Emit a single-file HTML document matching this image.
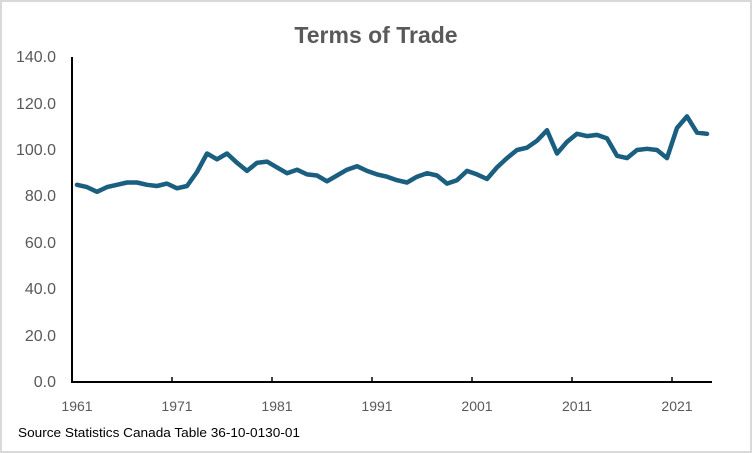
<!DOCTYPE html>
<html><head><style>
html,body{margin:0;padding:0;background:#fff}
svg{display:block;font-family:"Liberation Sans",sans-serif}
</style></head><body>
<svg width="752" height="453" viewBox="0 0 752 453">
<rect x="0" y="0" width="752" height="453" fill="#fff"/>
<rect x="1" y="1" width="750" height="451" fill="none" stroke="#d9d9d9" stroke-width="2"/>
<text x="376" y="43" text-anchor="middle" font-size="23" font-weight="bold" fill="#595959">Terms of Trade</text>
<g font-size="16" fill="#595959" text-anchor="end">
<text x="56" y="387">0.0</text>
<text x="56" y="341">20.0</text>
<text x="56" y="294">40.0</text>
<text x="56" y="248">60.0</text>
<text x="56" y="201">80.0</text>
<text x="56" y="155">100.0</text>
<text x="56" y="109">120.0</text>
<text x="56" y="62">140.0</text>
</g>
<g font-size="14" fill="#595959" text-anchor="middle">
<text x="77" y="411">1961</text>
<text x="177" y="411">1971</text>
<text x="277" y="411">1981</text>
<text x="377" y="411">1991</text>
<text x="477" y="411">2001</text>
<text x="577" y="411">2011</text>
<text x="677" y="411">2021</text>
</g>
<line x1="72" y1="57" x2="72" y2="383" stroke="#000" stroke-width="2"/>
<line x1="71" y1="382" x2="712" y2="382" stroke="#000" stroke-width="2"/>
<g stroke="#000" stroke-width="1.5">
<line x1="172" y1="377" x2="172" y2="382"/><line x1="272" y1="377" x2="272" y2="382"/>
<line x1="372" y1="377" x2="372" y2="382"/><line x1="472" y1="377" x2="472" y2="382"/>
<line x1="572" y1="377" x2="572" y2="382"/><line x1="672" y1="377" x2="672" y2="382"/>
</g>
<polyline fill="none" stroke="#1a5e80" stroke-width="4.5" stroke-linejoin="round" stroke-linecap="round" id="p"/>
<text x="18" y="437" font-size="12.5" fill="#000" textLength="282" lengthAdjust="spacingAndGlyphs">Source Statistics Canada Table 36-10-0130-01</text>
<script>
var v=[85,84,82,84,85,86,86,85,84.5,85.5,83.5,84.5,90.5,98.5,96,98.5,94.5,91,94.5,95,92.5,90,91.5,89.5,89,86.5,89,91.5,93,91,89.5,88.5,87,86,88.5,90,89,85.5,87,91,89.5,87.5,92.5,96.5,100,101,104,108.5,98.5,103.5,107,106,106.5,105,97.5,96.5,100,100.5,100,96.5,109.5,114.5,107.5,107];
document.getElementById('p').setAttribute('points',v.map(function(y,i){return (77+10*i)+','+(382-y*2.32).toFixed(1)}).join(' '));
</script>
</svg>
</body></html>
